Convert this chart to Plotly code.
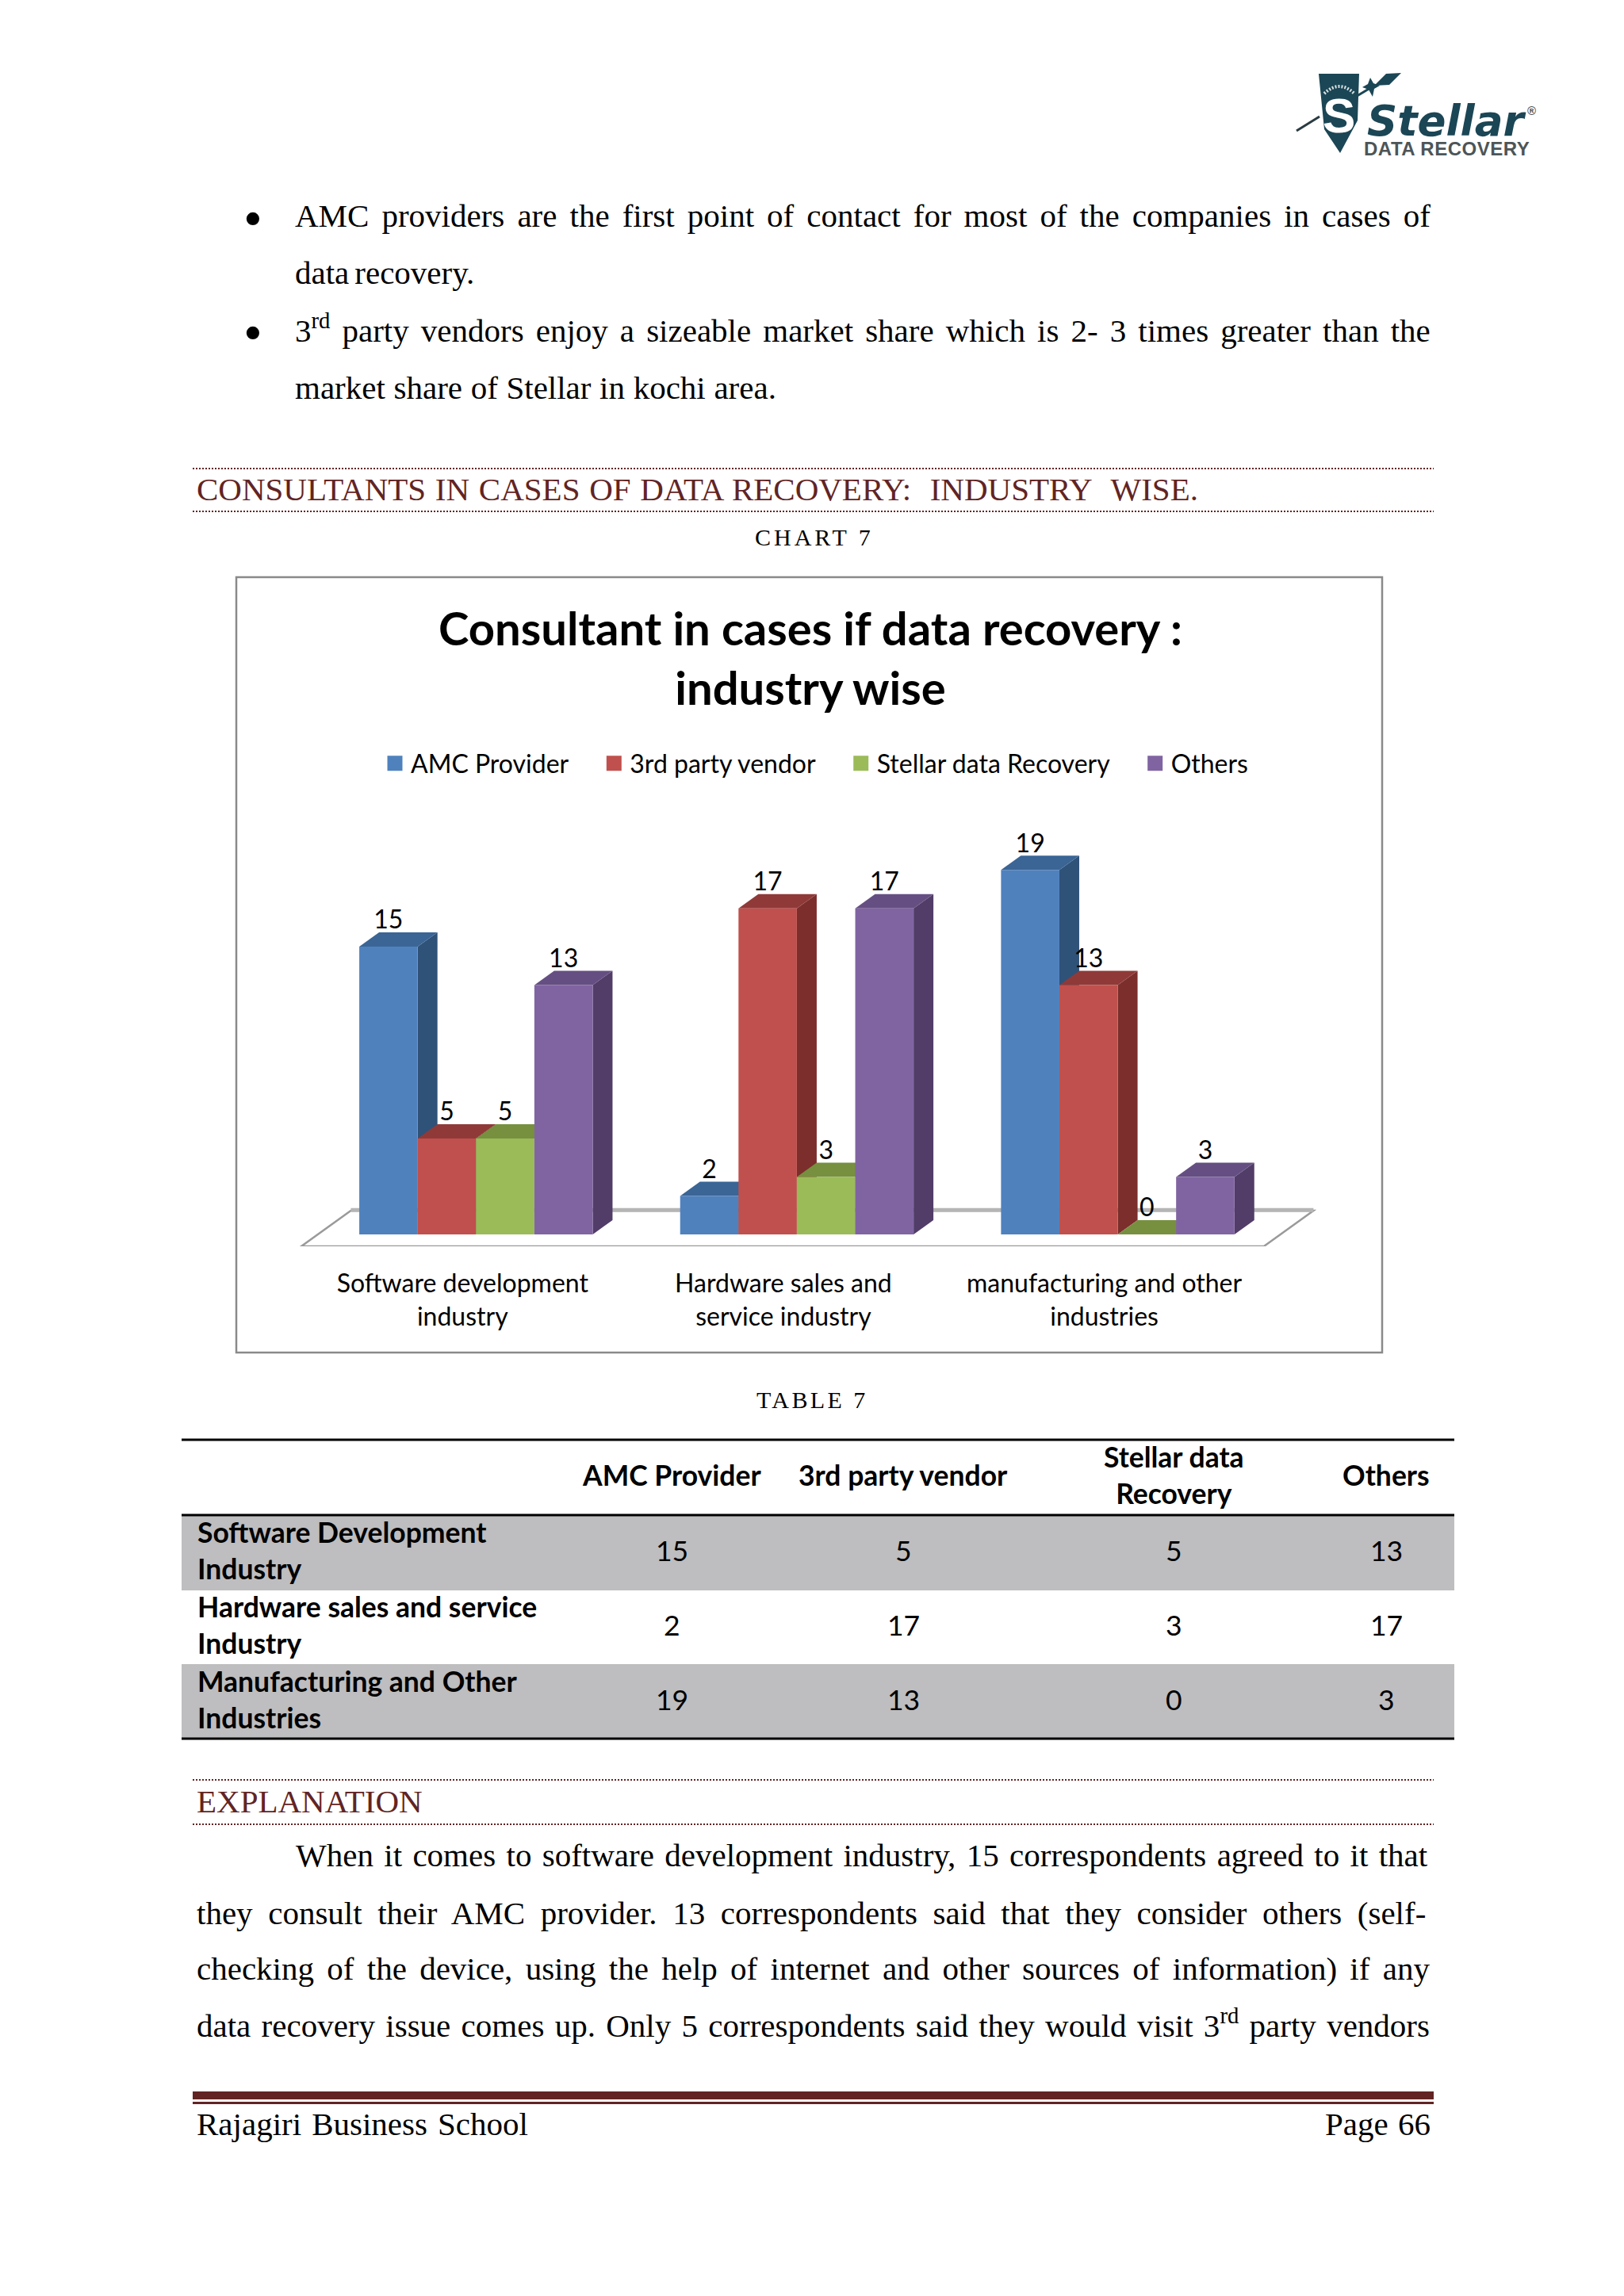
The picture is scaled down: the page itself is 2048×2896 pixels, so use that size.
import re
import plotly.graph_objects as go

W, H = 2048, 2896

# ---------- data ----------
categories = ["Software development<br>industry", "Hardware sales and<br>service industry",
              "manufacturing and other<br>industries"]
series_names = ["AMC Provider", "3rd party vendor", "Stellar data Recovery", "Others"]
amc = [15, 2, 19]
third_party = [5, 17, 13]
stellar = [5, 3, 0]
others = [13, 17, 3]
series_values = [amc, third_party, stellar, others]
front_colors = ["#4F81BD", "#C0504D", "#9BBB59", "#8064A2"]
side_colors = ["#2F5279", "#7B2E2C", "#5F7530", "#513D68"]
top_colors = ["#3A6595", "#8F3A38", "#77903F", "#654F82"]

table_rows = ["Software Development<br>Industry", "Hardware sales and service<br>Industry",
              "Manufacturing and Other<br>Industries"]
table_headers = ["AMC Provider", "3rd party vendor", "Stellar data<br>Recovery", "Others"]

bullet_lines = [
    (372, 284, 1804, "AMC providers are the first point of contact for most of the companies in cases of"),
    (372, 356, 601, "data recovery."),
    (372, 426, 1804, "3<sup>rd</sup> party vendors enjoy a sizeable market share which is 2- 3 times greater than the"),
    (372, 501, 979, "market share of Stellar in kochi area."),
]
body_lines = [
    (373, 2352, 1803, "When it comes to software development industry, 15 correspondents agreed to it that"),
    (248, 2425, 1803, "they consult their AMC provider. 13 correspondents said that they consider others (self-"),
    (248, 2495, 1803, "checking of the device, using the help of internet and other sources of information) if any"),
    (248, 2564, 1803, "data recovery issue comes up. Only 5 correspondents said they would visit 3<sup>rd</sup> party vendors"),
]

# ---------- helpers ----------
TIMES = dict(a=.444, b=.5, c=.444, d=.5, e=.444, f=.333, g=.5, h=.5, i=.278, j=.278, k=.5, l=.278, m=.778,
             n=.5, o=.5, p=.5, q=.5, r=.333, s=.389, t=.278, u=.5, v=.5, w=.722, x=.5, y=.5, z=.444,
             A=.722, B=.667, C=.667, D=.722, E=.611, F=.556, G=.722, H=.722, I=.333, J=.389, K=.722, L=.611,
             M=.889, N=.722, O=.722, P=.556, Q=.722, R=.667, S=.556, T=.611, U=.722, V=.722, W=.944, X=.722,
             Y=.722, Z=.611)
TIMES.update({" ": .25, "\u00a0": .25, ",": .25, ".": .25, ":": .278, "-": .333, "(": .333, ")": .333})
for d_ in "0123456789":
    TIMES[d_] = .5


def natural_width(text, size):
    total = 0.0
    for part in re.split(r"(<sup>.*?</sup>)", text):
        if part.startswith("<sup>"):
            total += sum(TIMES[c] for c in part[5:-6]) * 0.7
        else:
            total += sum(TIMES[c] for c in part)
    return total * size


annotations = []
SERIF = "Liberation Serif"
BASE_K = 0.30


def put(x, baseline, text, size=41, color="#000000", family=SERIF, anchor="left", bold=False, italic=False):
    annotations.append(dict(
        xref="paper", yref="paper", x=x / W, y=1 - (baseline - BASE_K * size) / H,
        text=text, showarrow=False, xanchor=anchor, yanchor="middle", align=anchor,
        borderpad=0, borderwidth=0,
        font=dict(family=family, size=size, color=color, weight=700 if bold else 400,
                  style="italic" if italic else "normal")))


def justified(x0, baseline, x1, text, size=41, color="#000000"):
    plain = re.sub(r"<sup>.*?</sup>", "", text)
    gaps = plain.count(" ") + plain.count("\u00a0")
    extra = (x1 - x0 - natural_width(text, size)) / max(gaps, 1)
    put(x0, baseline, f'<span style="word-spacing:{extra:.2f}px">{text}</span>', size, color)


MAROON = "#622423"
for line in bullet_lines:
    justified(*line)
for line in body_lines:
    justified(*line)
put(319, 295, "•", 68, anchor="center")
put(319, 439, "•", 68, anchor="center")
justified(248, 629, 1537, "CONSULTANTS IN CASES OF DATA RECOVERY:\u00a0 INDUSTRY\u00a0 WISE.", 41, MAROON)
justified(248, 2284, 529, "EXPLANATION", 41, MAROON)
put(1027, 686, '<span style="letter-spacing:4px">CHART 7</span>', 30, anchor="center")
put(1024, 1774, '<span style="letter-spacing:3.4px">TABLE 7</span>', 30, anchor="center")
justified(248, 2691, 666, "Rajagiri Business School", 41)
justified(1671, 2691, 1804, "Page 66", 41)

# logo text
TEAL = "#1B4655"
put(1724, 168, "Stellar", 53, TEAL, "DejaVu Sans", bold=True, italic=True)
put(1926, 144, "®", 15, "#4D5557", "Liberation Sans", bold=True)
put(1720, 195, '<span style="letter-spacing:0.5px">DATA RECOVERY</span>', 24, "#4D5557", "Liberation Sans", bold=True)
put(1688, 164, "S", 62, "#FFFFFF", "Liberation Sans", anchor="center", bold=True)


# ---------- shapes ----------
def px_x(v):
    return v / W


def px_y(v):
    return 1 - v / H


def paper_line(x0, y0, x1, y1, color, width, dash="solid", layer="above"):
    return dict(type="line", xref="paper", yref="paper", x0=px_x(x0), x1=px_x(x1), y0=px_y(y0), y1=px_y(y1),
                line=dict(color=color, width=width, dash=dash), layer=layer)


def paper_poly(points, color, layer="above"):
    path = "M" + " L".join(f"{px_x(a):.5f},{px_y(b):.5f}" for a, b in points) + " Z"
    return dict(type="path", xref="paper", yref="paper", path=path, fillcolor=color,
                line=dict(color=color, width=0), layer=layer)


shapes = [dict(type="rect", xref="paper", yref="paper", x0=px_x(298), x1=px_x(1743), y0=px_y(728), y1=px_y(1706),
               line=dict(color="#8A8A8A", width=2.5), fillcolor="rgba(255,255,255,0)", layer="below")]

# chart geometry, in axis units
BAR_W = 73.6 / 404.67
DX = 25 / 404.67
DY = 18 / 24.2
FLOOR_Y = -15 / 24.2


def data_path(points):
    return "M" + " L".join(f"{a:.4f},{b:.4f}" for a, b in points) + " Z"


floor_l, floor_r = -0.5 - 18 / 404.67, 2.5 - 18 / 404.67
floor_pts = [(floor_l, FLOOR_Y), (floor_r, FLOOR_Y), (floor_r + 2.5 * DX, FLOOR_Y + 2.5 * DY),
             (floor_l + 2.5 * DX, FLOOR_Y + 2.5 * DY)]
shapes.append(dict(type="path", xref="x", yref="y", path=data_path(floor_pts), fillcolor="#FFFFFF",
                   line=dict(color="#9A9A9A", width=2.5), layer="below"))
shapes.append(dict(type="line", xref="x", yref="y", x0=floor_pts[3][0], x1=floor_pts[2][0],
                   y0=floor_pts[2][1] + 0.03, y1=floor_pts[2][1] + 0.03,
                   line=dict(color="#B5B5B5", width=5), layer="below"))

for g in range(len(categories)):
    for s, vals in enumerate(series_values):
        v = vals[g]
        left = g + (s - 2) * BAR_W
        right = left + BAR_W
        if v > 0:
            side = [(right, 0), (right + DX, DY), (right + DX, v + DY), (right, v)]
            shapes.append(dict(type="path", xref="x", yref="y", path=data_path(side),
                               fillcolor=side_colors[s], line=dict(color=side_colors[s], width=0), layer="below"))
        top = [(left, v), (right, v), (right + DX, v + DY), (left + DX, v + DY)]
        shapes.append(dict(type="path", xref="x", yref="y", path=data_path(top),
                           fillcolor=top_colors[s], line=dict(color=top_colors[s], width=0), layer="below"))

# page rules
for y_rule in (591, 645, 2245, 2301):
    shapes.append(paper_line(243, y_rule, 1808, y_rule, MAROON, 2, "2px,2px"))
shapes.append(paper_line(243, 2643, 1808, 2643, MAROON, 10))
shapes.append(paper_line(243, 2652.5, 1808, 2652.5, MAROON, 3))

# logo shapes
shield = [(1663, 93), (1714, 93), (1712, 152), (1690, 193), (1670, 163), (1665, 113)]
shapes.append(paper_poly(shield, TEAL))
shapes.append(paper_line(1635, 165, 1664, 147, "#2A3B42", 3))
shapes.append(paper_line(1708, 123, 1733, 108, TEAL, 3))
shapes.append(paper_poly([(1733, 108), (1748, 93), (1767, 92), (1752, 107)], TEAL))
shapes.append(paper_poly([(1728, 98), (1732, 105), (1740, 108), (1733, 112), (1731, 122), (1726, 113), (1718, 110), (1725, 106)], TEAL))
shapes.append(dict(type="path", xref="paper", yref="paper",
                   path=f"M{px_x(1670):.5f},{px_y(118):.5f} Q{px_x(1689):.5f},{px_y(100):.5f} {px_x(1708):.5f},{px_y(118):.5f}",
                   line=dict(color="#D8E0E2", width=4, dash="2px,2px"), layer="above"))

# ---------- table ----------
GREY = "#BEBDBF"
COL_CENTERS = [847, 1139, 1480, 1748]
ROW_EDGES = [1816, 1911, 2006, 2099, 2193]
TEXT_LIFT = 3
for r in (0, 2):
    shapes.append(dict(type="rect", xref="paper", yref="paper", x0=px_x(229), x1=px_x(1834),
                       y0=px_y(ROW_EDGES[r + 1]), y1=px_y(ROW_EDGES[r + 2]),
                       fillcolor=GREY, line=dict(width=0), layer="below"))
for y_rule in (ROW_EDGES[0], ROW_EDGES[1], ROW_EDGES[4]):
    shapes.append(paper_line(229, y_rule, 1834, y_rule, "#000000", 3))


def cell(x, y_mid, text, anchor="center", bold=False):
    annotations.append(dict(
        xref="paper", yref="paper", x=x / W, y=1 - (y_mid - TEXT_LIFT) / H, text=text, showarrow=False,
        xanchor=anchor, yanchor="middle", align=anchor, borderpad=0,
        font=dict(family="Lato", size=35.5, color="#000000", weight=700 if bold else 400)))


for c, head in enumerate(table_headers):
    cell(COL_CENTERS[c], (ROW_EDGES[0] + ROW_EDGES[1]) / 2, head, bold=True)
for r, label in enumerate(table_rows):
    mid = (ROW_EDGES[r + 1] + ROW_EDGES[r + 2]) / 2
    cell(248, mid, label, anchor="left", bold=True)
    for c, vals in enumerate(series_values):
        cell(COL_CENTERS[c], mid, str(vals[r]))

# ---------- figure ----------
fig = go.Figure()
for s, name in enumerate(series_names):
    fig.add_trace(go.Bar(x=list(range(len(categories))), y=series_values[s], name=name,
                         marker=dict(color=front_colors[s], line=dict(width=0)), showlegend=False,
                         hoverinfo="x+y+name"))
# value labels sit above the 3-D tops of the bars
for s, name in enumerate(series_names):
    xs = [g + (s - 1.5) * BAR_W for g in range(len(categories))]
    ys = [v + 1.27 for v in series_values[s]]
    fig.add_trace(go.Scatter(x=xs, y=ys, mode="text", text=[str(v) for v in series_values[s]],
                             textposition="middle center", textfont=dict(family="Lato", size=32, color="#000000"),
                             showlegend=False, hoverinfo="skip"))
# legend swatches
pad = "\u00a0" * 4
for s, name in enumerate(series_names):
    fig.add_trace(go.Scatter(x=[None], y=[None], mode="markers", name=name + pad,
                             marker=dict(symbol="square", size=15, color=front_colors[s],
                                         line=dict(color=front_colors[s], width=4))))

fig.update_layout(
    width=W, height=H, margin=dict(l=0, r=0, t=0, b=0, autoexpand=False),
    paper_bgcolor="#FFFFFF", plot_bgcolor="rgba(0,0,0,0)",
    barmode="group", bargap=1 - 4 * BAR_W, bargroupgap=0,
    title=dict(text="Consultant in cases if data recovery :<br>industry wise",
               x=1022 / W, xanchor="center", y=1 - 814 / H, yanchor="middle",
               font=dict(family="Lato", size=58, color="#000000", weight=700)),
    legend=dict(orientation="h", x=478 / W, xanchor="left", y=1 - 963 / H, yanchor="middle",
                bgcolor="rgba(0,0,0,0)", font=dict(family="Lato", size=32, color="#000000"),
                itemsizing="trace", itemclick=False, itemdoubleclick=False),
    xaxis=dict(domain=[298 / W, 1743 / W], range=[-0.747, 2.824], showgrid=False, zeroline=False,
               showline=False, ticks="", tickmode="array",
               tickvals=[g - 17 / 404.67 for g in range(len(categories))], ticktext=categories,
               tickfont=dict(family="Lato", size=32, color="#000000"), ticklabelstandoff=25),
    yaxis=dict(domain=[1 - 1572 / H, 1 - 728 / H], range=[FLOOR_Y, 34.26], showgrid=False, zeroline=False,
               showline=False, showticklabels=False, ticks=""),
    shapes=shapes, annotations=annotations, showlegend=True,
)

fig.write_html("out.html", post_script="document.body.style.margin='0';", config={"displayModeBar": False})
